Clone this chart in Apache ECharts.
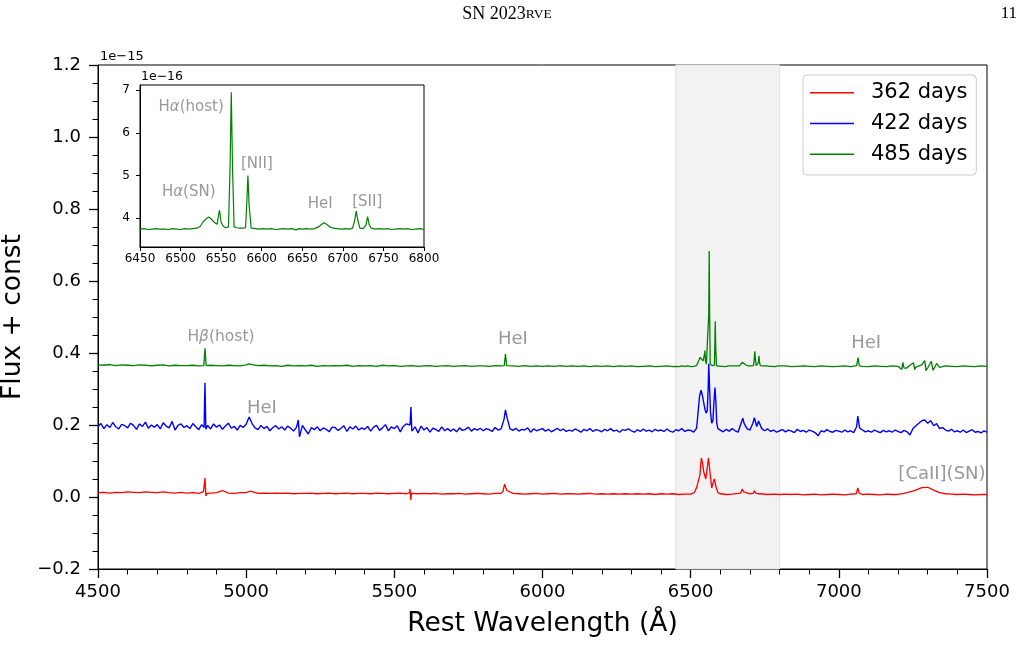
<!DOCTYPE html>
<html><head><meta charset="utf-8">
<script src="https://cdn.jsdelivr.net/npm/echarts@6/dist/echarts.min.js"></script>
<style>html,body{margin:0;padding:0;background:#fff}#c{width:1024px;height:645px}</style>
</head><body><div id="c"></div>
<script>
// ---------------- DATA (flux in 1e-15 units ×1000) ----------------
const waveStart = 4500;
const seriesNames = ['362 days', '422 days', '485 days'];
const insetYTicks = [4, 5, 6, 7];
const shadedRange = [6450, 6800];

// 362 days (red), grid every 20 Å from 4500
const redStep = 20;
const red362 = [
  12,13,11,13,12, 14,13,12,14,13, 12,14,12,11,13, 11,12,10,11,11, 12,18,11,10,12,
  12,11,10,11,10, 11,10,11,9,10, 10,11,9,10,11, 9,10,11,9,10, 10,9,11,10,9,
  10,11,9,10,9, 10,9,10,8,9, 9,10,8,9,10, 9,8,10,10,18, 10,9,8,9,10,
  8,9,10,8,9, 9,8,9,10,8, 9,8,9,8,9, 8,9,8,9,7, 9,8,9,7,8,
  8,26,95,108,50, 9,7,8,10,10, 9,14,8,7,8, 7,8,7,8,6, 7,8,6,7,8,
  7,6,8,8,7, 8,7,6,8,7, 7,10,14,19,26, 27,19,12,9,8, 7,8,7,6,7, 7
];
const redLines = [
  [4856,15],[4858,20],[4861,53],[4864,3],[4868,10],
  [5012,16],[5016,19],[5020,15],
  [5551,12],[5553,22],[5555,-8],[5558,10],
  [5867,16],[5872,36],[5876,26],
  [6512,12],[6526,30],[6531,60],[6536,108],[6544,70],[6551,50],[6556,82],[6565,70],[6571,25],[6576,40],[6585,30],[6592,12],
  [6669,11],[6674,22],[6679,14],
  [6711,10],[6715,17],[6720,11],[6727,9],[6731,13],[6735,9],
  [7059,9],[7064,25],[7069,10]
];

// 422 days (blue), grid every 10 Å from 4500
const blueStep = 10;
const blue422 = [
  196,204,190,201,193,207,195,189,202,198, 192,205,199,188,203,196,208,191,200,194,
  201,189,206,197,192,210,186,199,203,193, 198,190,204,195,187,201,192,199,189,203,
  194,200,188,197,205,191,196,186,199,193, 202,222,204,192,187,199,190,196,184,193,
  198,189,195,186,197,191,183,194,190,199, 186,175,193,187,195,184,192,188,181,194,
  193,185,191,198,182,195,189,197,186,192, 188,196,183,194,199,185,192,201,184,195,
  190,198,181,196,203,187,184,195,178,197, 186,193,180,191,188,182,195,184,190,183,
  189,181,192,185,188,194,183,190,186,191, 184,190,187,182,193,186,189,215,222,190,
  185,191,183,188,186,192,180,189,184,187, 190,183,188,181,186,191,184,189,182,186,
  183,189,185,180,188,184,190,182,187,185, 181,188,184,190,183,186,180,187,185,189,
  184,180,187,182,189,183,186,181,188,184, 186,182,189,183,180,187,184,190,182,186,
  185,180,191,280,278,240,340,210,280,192, 186,181,188,183,190,184,180,205,205,190,
  186,205,206,208,190,184,189,182,186,180, 184,187,181,186,183,179,188,182,185,180,
  186,183,179,170,184,181,187,182,180,185, 183,180,186,181,184,179,195,192,186,181,
  184,180,186,182,179,185,181,184,180,186, 182,179,185,181,172,190,198,205,212,214,
  205,212,198,204,190,193,186,183,188,181, 184,180,186,179,183,187,180,182,178,184,
  180
];
const blueLines = [
  [4858,193],[4861,317],[4864,188],
  [5176,214],[5180,167],
  [5553,200],[5556,250],[5559,183],
  [5875,242],
  [6525,235],[6530,280],[6535,297],[6540,280],[6544,262],[6548,245],[6552,233],[6556,240],[6559,300],[6561,370],[6564,300],[6567,235],[6571,205],[6575,212],[6579,270],[6582,304],[6585,265],[6588,205],[6592,190],
  [6676,219],
  [6715,220],[6723,196],[6729,211],
  [7064,225]
];

// 485 days (green), raw flux, grid every 20 Å from 4500
const greenStep = 20;
const green485 = [
  379,378,380,377,379, 378,377,379,378,376, 378,379,376,378,377, 377,378,376,377,378, 377,376,378,377,376,
  379,376,377,378,376, 377,375,378,376,377, 376,378,375,377,376, 377,376,378,375,377, 376,377,375,378,376,
  377,375,376,377,375, 376,377,375,376,377, 375,376,377,375,376, 376,375,377,376,378, 376,375,377,375,376,
  375,376,375,377,375, 376,375,376,374,376, 375,376,374,376,375, 376,374,375,376,374, 375,376,374,376,375,
  375,377,398,378,377, 375,376,376,376,388, 376,376,377,376,375, 375,376,374,375,376, 375,374,376,375,374,
  375,376,374,377,375, 374,376,375,374,376, 375,370,378,373,379, 371,381,372,376,375, 374,376,375,374,376, 375
];
const greenLines = [
  [4857,377],[4861,425],[4865,377],
  [5010,382],[5015,385],[5020,380],
  [5871,377],[5875,409],[5879,377],
  [6450,375],[6455,376],[6460,374],[6465,375],[6470,376],[6472,380],[6474,375],[6480,375],[6485,374],[6490,376],[6495,375],
  [6500,374],[6505,376],[6510,375],[6515,376],[6520,377],[6524,381],[6528,392],[6532,400],[6535,403],[6538,398],[6542,390],
  [6545,386],[6547,410],[6548,419],[6550,390],[6553,381],[6556,378],[6559,380],[6561,520],[6562.5,695],[6564,520],[6566,380],
  [6569,378],[6573,377],[6577,377],[6580,378],[6581.5,430],[6583,500],[6584.5,430],[6587,377],[6592,376],[6597,375],
  [6602,376],[6607,375],[6612,376],[6617,374],[6622,375],[6627,376],[6632,375],[6637,376],[6642,373],[6646,376],[6650,375],
  [6655,376],[6660,375],[6665,376],[6670,380],[6674,386],[6677,390],[6680,386],[6684,380],[6688,377],[6693,376],[6698,375],
  [6703,376],[6708,375],[6712,377],[6714.5,395],[6716.5,417],[6718.5,395],[6721,377],[6725,376],[6728.5,385],[6730.5,404],
  [6732.5,385],[6735,377],[6740,375],[6745,376],[6750,375],[6755,376],[6760,374],[6765,375],[6770,376],[6775,375],[6780,376],
  [6785,374],[6790,375],[6795,376],[6800,374],
  [7060,377],[7065,399],[7069,376],
  [7212,366],[7216,386],[7228,370],[7252,385],[7256,366],[7290,391],[7294,363],[7312,389],[7318,364],[7330,383]
];
const greenConst = -0.012;   // "+ const" offset of the 485-day spectrum in the main panel

// annotations [wavelength, flux, text, font size]
const mainNotes = [
  [4915, 0.444, '{r|H}{i|β}{r|(host)}', 15.5],
  [5053, 0.247, '{r|HeI}', 18],
  [5900, 0.439, '{r|HeI}', 18],
  [7092, 0.428, '{r|HeI}', 18],
  [7348, 0.064, '{r|[CaII](SN)}', 18]
];
const insetNotes = [
  [6513, 6.61, '{r|H}{i|α}{r|(host)}'],
  [6594, 5.27, '{r|[NII]}'],
  [6510, 4.62, '{r|H}{i|α}{r|(SN)}'],
  [6672, 4.33, '{r|HeI}'],
  [6730, 4.39, '{r|[SII]}']
];

// ---------------- BUILD ----------------
function buildSpectrum(step, grid, lines, scale, shift) {
  const pts = [];
  grid.forEach((v, i) => {
    const w = waveStart + i * step;
    if (!lines.some(p => Math.abs(p[0] - w) <= 3.5)) pts.push([w, v]);
  });
  lines.forEach(p => pts.push([p[0], p[1]]));
  pts.sort((a, b) => a[0] - b[0]);
  return pts.map(p => [p[0], +(p[1] * scale + shift).toFixed(5)]);
}
const redData = buildSpectrum(redStep, red362, redLines, 0.001, 0);
const blueData = buildSpectrum(blueStep, blue422, blueLines, 0.001, 0);
const greenMain = buildSpectrum(greenStep, green485, greenLines, 0.001, greenConst);
const greenInset = buildSpectrum(greenStep, green485, greenLines, 0.01, 0)
  .filter(p => p[0] >= 6440 && p[0] <= 6810);

const FONT = 'DejaVu Sans';
const fmtNum = v => {
  if (Math.abs(v) < 1e-9) return '0.0';
  return v.toFixed(1).replace('-', '\u2212');
};
const richNote = s => ({
  r: {fontFamily: FONT, fontSize: s, color: '#808080'},
  i: {fontFamily: FONT, fontSize: s, color: '#808080', fontStyle: 'italic'}
});

const chart = echarts.init(document.getElementById('c'), null, {renderer: 'canvas'});
chart.setOption({
  animation: false,
  backgroundColor: '#fff',
  grid: [
    {left: 98, top: 65, width: 889, height: 504, show: true, borderColor: '#000', borderWidth: 1,
     backgroundColor: 'transparent', containLabel: false, outerBoundsMode: 'none'},
    {left: 140, top: 85, width: 284, height: 162, show: true, borderColor: '#000', borderWidth: 1,
     backgroundColor: '#fff', z: 5, containLabel: false, outerBoundsMode: 'none'}
  ],
  xAxis: [
    {gridIndex: 0, type: 'value', min: 4500, max: 7500, interval: 500,
     name: 'Rest Wavelength (Å)', nameLocation: 'middle', nameGap: 42,
     nameTextStyle: {fontFamily: FONT, fontSize: 26.5, color: '#000'},
     axisLine: {onZero: false, lineStyle: {color: '#000', width: 1}},
     axisTick: {inside: false, length: 9, lineStyle: {color: '#000', width: 1.3}},
     minorTick: {show: true, splitNumber: 5, length: 5.5, lineStyle: {color: '#000', width: 1}},
     axisLabel: {fontFamily: FONT, fontSize: 18, color: '#000', margin: 14.5, formatter: v => String(v)},
     splitLine: {show: false}},
    {gridIndex: 1, type: 'value', min: 6450, max: 6800, interval: 50, z: 6,
     axisLine: {onZero: false, lineStyle: {color: '#000', width: 1}},
     axisTick: {length: 4, lineStyle: {color: '#000', width: 1}},
     axisLabel: {fontFamily: FONT, fontSize: 12, color: '#000', margin: 6, formatter: v => String(v)},
     splitLine: {show: false}}
  ],
  yAxis: [
    {gridIndex: 0, type: 'value', min: -0.2, max: 1.2, interval: 0.2,
     name: 'Flux + const', nameLocation: 'middle', nameGap: 66,
     nameTextStyle: {fontFamily: FONT, fontSize: 26.5, color: '#000'},
     axisLine: {onZero: false, lineStyle: {color: '#000', width: 1}},
     axisTick: {length: 9, lineStyle: {color: '#000', width: 1.3}},
     minorTick: {show: true, splitNumber: 4, length: 5.5, lineStyle: {color: '#000', width: 1}},
     axisLabel: {fontFamily: FONT, fontSize: 18, color: '#000', margin: 17, formatter: fmtNum},
     splitLine: {show: false}},
    {gridIndex: 1, type: 'value', min: 3.33, max: 7.12, z: 6,
     axisLine: {onZero: false, lineStyle: {color: '#000', width: 1}},
     axisTick: {length: 4, customValues: insetYTicks, lineStyle: {color: '#000', width: 1}},
     axisLabel: {fontFamily: FONT, fontSize: 12, color: '#000', margin: 10, customValues: insetYTicks,
                 formatter: v => String(Math.round(v))},
     splitLine: {show: false}}
  ],
  legend: {
    data: seriesNames, orient: 'vertical', left: 803, top: 75,
    icon: 'rect', itemWidth: 44, itemHeight: 1.5, itemGap: 6.8,
    padding: [5.7, 9, 8.7, 7],
    borderColor: '#cccccc', borderWidth: 1, borderRadius: 4, backgroundColor: 'rgba(255,255,255,0.8)',
    textStyle: {fontFamily: FONT, fontSize: 21, lineHeight: 24, color: '#000', padding: [0, 0, 0, 12]}
  },
  graphic: [
    {type: 'text', z: 10, style: {x: 507, y: 14, align: 'center', verticalAlign: 'middle',
      text: '{a|SN 2023}{b|RVE}',
      rich: {a: {fontFamily: 'Liberation Serif', fontSize: 18, fill: '#000'},
             b: {fontFamily: 'Liberation Serif', fontSize: 13.5, fill: '#000'}}}},
    {type: 'text', z: 10, style: {x: 1017, y: 14, align: 'right', verticalAlign: 'middle', text: '11',
      fontFamily: 'Liberation Serif', fontSize: 17, fill: '#000'}},
    {type: 'text', z: 10, style: {x: 100, y: 57, align: 'left', verticalAlign: 'middle', text: '1e\u221215',
      fontFamily: FONT, fontSize: 13, fill: '#000'}},
    {type: 'text', z: 10, style: {x: 141, y: 77, align: 'left', verticalAlign: 'middle', text: '1e\u221216',
      fontFamily: FONT, fontSize: 12.5, fill: '#000'}}
  ],
  series: [
    {type: 'line', name: 'shade', xAxisIndex: 0, yAxisIndex: 0, data: [], z: 1, silent: true,
     markArea: {silent: true, itemStyle: {color: '#f2f2f2', borderColor: '#e3e3e3', borderWidth: 1},
       data: [[{xAxis: shadedRange[0]}, {xAxis: shadedRange[1]}]]}},
    {type: 'line', name: seriesNames[0], xAxisIndex: 0, yAxisIndex: 0, data: redData, z: 3,
     showSymbol: false, symbol: 'none', color: '#ff0000', lineStyle: {color: '#ff0000', width: 1.3}},
    {type: 'line', name: seriesNames[1], xAxisIndex: 0, yAxisIndex: 0, data: blueData, z: 3,
     showSymbol: false, symbol: 'none', color: '#0000ff', lineStyle: {color: '#0000ff', width: 1.4}},
    {type: 'line', name: seriesNames[2], xAxisIndex: 0, yAxisIndex: 0, data: greenMain, z: 3,
     showSymbol: false, symbol: 'none', color: '#008000', lineStyle: {color: '#008000', width: 1.3}},
    {type: 'line', name: 'inset', xAxisIndex: 1, yAxisIndex: 1, data: greenInset, z: 7,
     showSymbol: false, symbol: 'none', color: '#008000', lineStyle: {color: '#008000', width: 1.2}},
    {type: 'scatter', name: 'notesMain', xAxisIndex: 0, yAxisIndex: 0, z: 8, silent: true,
     symbolSize: 1, itemStyle: {color: 'rgba(0,0,0,0)'},
     data: mainNotes.map(n => ({value: [n[0], n[1]],
       label: {show: true, position: 'inside', formatter: n[2], rich: richNote(n[3])}}))},
    {type: 'scatter', name: 'notesInset', xAxisIndex: 1, yAxisIndex: 1, z: 8, silent: true,
     symbolSize: 1, itemStyle: {color: 'rgba(0,0,0,0)'},
     data: insetNotes.map(n => ({value: [n[0], n[1]],
       label: {show: true, position: 'inside', formatter: n[2], rich: richNote(15)}}))}
  ]
});
</script>
</body></html>
